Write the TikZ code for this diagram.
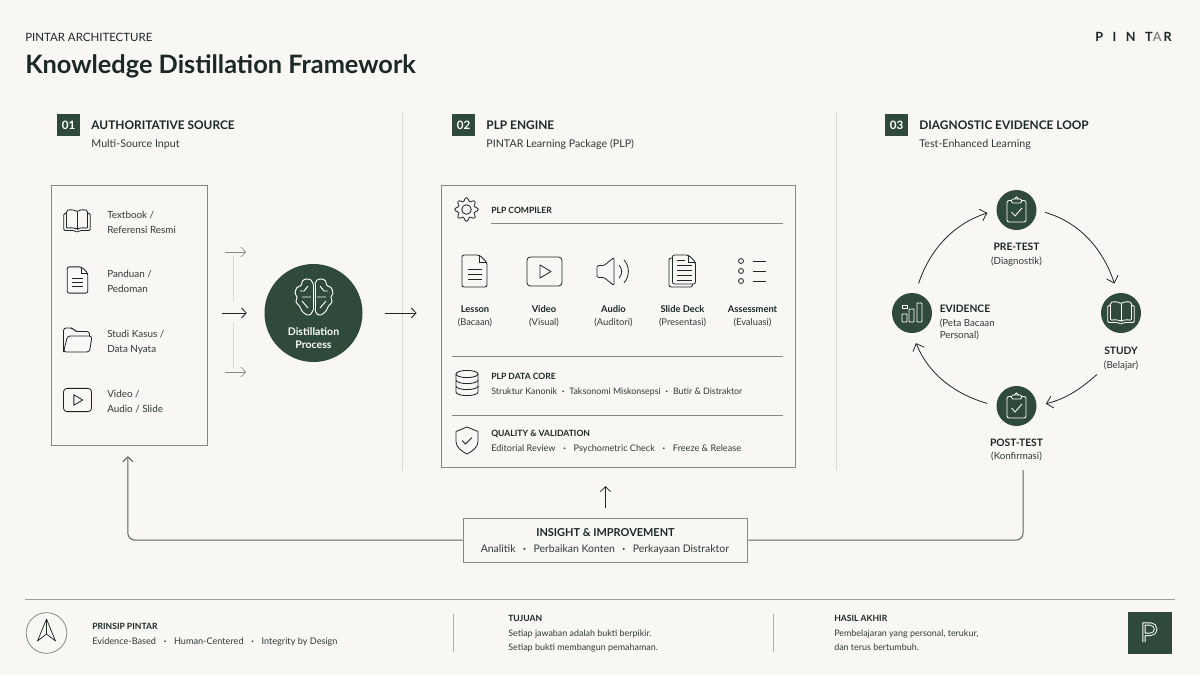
\documentclass[tikz,border=0pt]{standalone}
\usepackage{fontspec}
\setmainfont{Lato}
\newfontfamily\logofont[LetterSpace=75]{Lato}
\usetikzlibrary{arrows.meta, positioning, calc}

\definecolor{paper}{HTML}{F8F7F4}
\definecolor{forest}{HTML}{2F4A3A}
\definecolor{ink}{HTML}{1C2826}
\definecolor{soft}{HTML}{2F3937}
\definecolor{rulegray}{HTML}{858A87}
\definecolor{palegray}{HTML}{D9D9D5}

\newcommand{\pxfont}[2]{\fontsize{#1}{#2}\selectfont}
\newcommand{\midsep}[1][0.85em]{\hspace{#1}\textbf{·}\hspace{#1}}

\tikzset{
  pics/bookicon/.style={code={
    \draw[rounded corners=1pt] (0,-9) .. controls (-3,-7) and (-8,-7) .. (-11,-8) -- (-11,11) .. controls (-8,12) and (-3,12) .. (0,9.5) .. controls (3,12) and (8,12) .. (11,11) -- (11,-8) .. controls (8,-7) and (3,-7) .. (0,-9) -- cycle;
    \draw (0,9.5) -- (0,-9);
    \draw[rounded corners=1pt] (-11,8) -- (-14,8) -- (-14,-10) -- (-3,-10) -- (0,-12) -- (3,-10) -- (14,-10) -- (14,8) -- (11,8);
  }},
  pics/docicon/.style={code={
    \draw[rounded corners=1.5pt] (-12.5,16) -- (5,16) -- (12.5,8.5) -- (12.5,-16) -- (-12.5,-16) -- cycle;
    \draw (5,16) -- (5,8.5) -- (12.5,8.5);
    \foreach \ly in {2,-3,-8} \draw (-7,\ly) -- (7,\ly);
  }},
  pics/foldericon/.style={code={
    \draw[rounded corners=2pt] (-14,-12) -- (-14,12) -- (-5,12) -- (-2,8.5) -- (12,8.5) -- (12,4);
    \draw[rounded corners=2pt] (-14,-12) -- (-10,4) -- (14.5,4) -- (12,-12) -- cycle;
  }},
  pics/videoicon/.style={code={
    \draw[rounded corners=2.5pt] (-17.5,-14.5) rectangle (17.5,14.5);
    \draw[line join=round] (-4.5,6.5) -- (6.5,0) -- (-4.5,-6.5) -- cycle;
  }},
  pics/speakericon/.style={code={
    \draw[line join=round, rounded corners=1pt] (-16,-6) -- (-16,6) -- (-9,6) -- (1,14) -- (1,-14) -- (-9,-6) -- cycle;
    \draw (6,6.5) arc[start angle=45, end angle=-45, radius=9.2];
    \draw (11,11.5) arc[start angle=42, end angle=-42, radius=17];
  }},
  pics/deckicon/.style={code={
    \draw[rounded corners=1.5pt] (-10,16) -- (6,16) -- (13,9) -- (13,-13) -- (-10,-13) -- cycle;
    \draw (6,16) -- (6,9) -- (13,9);
    \draw[rounded corners=1.5pt] (-10,13) -- (-13.5,13) -- (-13.5,-16) -- (10,-16) -- (10,-13);
    \foreach \ly/\lx in {11/2,6/9,1/9,-4/9,-9/9} \draw (-6,\ly) -- (\lx,\ly);
  }},
  pics/listicon/.style={code={
    \foreach \ly in {10,0,-10} {
      \draw (-11,\ly) circle[radius=2.5];
      \draw (1,\ly) -- (14,\ly);
    }
  }},
  pics/gearicon/.style={code={
    \draw plot[smooth cycle, samples=64, domain=0:354.375] ({(10+1.7*cos(8*\x))*cos(\x)}, {(10+1.7*cos(8*\x))*sin(\x)});
    \draw (0,0) circle[radius=4.8];
  }},
  pics/dbicon/.style={code={
    \draw (0,9) ellipse[x radius=11, y radius=3.6];
    \draw (-11,9) -- (-11,-9) arc[start angle=180, end angle=360, x radius=11, y radius=3.6] -- (11,9);
    \draw (-11,3) arc[start angle=180, end angle=360, x radius=11, y radius=3.6];
    \draw (-11,-3) arc[start angle=180, end angle=360, x radius=11, y radius=3.6];
  }},
  pics/shieldicon/.style={code={
    \draw[line join=round] (0,13.5) -- (-11,9) -- (-11,-1) .. controls (-11,-7) and (-5,-11) .. (0,-13.5) .. controls (5,-11) and (11,-7) .. (11,-1) -- (11,9) -- cycle;
    \draw (-5,0) -- (-1.5,-3.5) -- (5,3);
  }},
  pics/clipicon/.style={code={
    \draw[rounded corners=1.5pt] (-5,10.5) -- (-9.5,10.5) -- (-9.5,-11) -- (9.5,-11) -- (9.5,10.5) -- (5,10.5);
    \draw[rounded corners=1pt] (-5,8) rectangle (5,12);
    \draw (-2,12) -- (0,14) -- (2,12);
    \draw (-5,-1) -- (-1.5,-5) -- (5.5,3);
  }},
  pics/barsicon/.style={code={
    \draw[rounded corners=.6pt] (-11,-9) rectangle (-6,-1);
    \draw[rounded corners=.6pt] (-4,-9) rectangle (1,4);
    \draw[rounded corners=.6pt] (4,-9) rectangle (9,10);
    \draw (-11,5) rectangle (-6,8);
  }},
  pics/brainicon/.style={code={
    \foreach \sd in {-1,1} {
      \begin{scope}[xscale=\sd]
        \draw plot[smooth] coordinates {(1,13) (3,17) (8,18) (11.5,16) (13,11.5) (17,9.5) (19,4) (17,0) (18,-5) (14.5,-9) (12,-14) (7,-18) (3,-17) (1,-13)};
        \draw (1,13) -- (1,-13);
        \draw (6,11) -- (10,6) -- (14,6) (3,0) -- (12,0) (6,-11) -- (12,-4);
      \end{scope}
    }
  }},
  pics/compassicon/.style={code={
    \draw[line join=round] (0,13) -- (-9,-9) -- (0,-2) -- (9,-9) -- cycle;
    \draw (0,13) -- (0,-2);
  }},
  pics/plogo/.style={code={
    \draw[white, line width=.7pt, double=forest, double distance=1.1pt] (-5.5,-9.5) -- (-5.5,8.5) -- (1,8.5) arc[start angle=90, end angle=-90, radius=5.2] -- (-5.5,-1.9);
  }}
}

\begin{document}
\begin{tikzpicture}[
  x=0.75pt, y=0.75pt,
  >={Straight Barb[length=3.6pt,width=7.5pt]},
  node distance=5pt and 8pt,
  every node/.style={inner sep=0pt, text=soft},
  icon/.style={ink, line width=0.62pt},
  iconw/.style={white, line width=0.62pt},
  kicker/.style={anchor=west, yshift=-.6pt, text=ink, font=\pxfont{8.6}{12}},
  headline/.style={anchor=west, text=ink, font=\pxfont{19}{24}\bfseries},
  badge/.style={fill=forest, text=white, minimum width=17pt, minimum height=17pt, font=\pxfont{8.7}{10}\bfseries},
  sechead/.style={anchor=west, text=ink, font=\pxfont{8.9}{12}\bfseries},
  secsub/.style={text=soft, font=\pxfont{8}{10}},
  frame/.style={draw=rulegray, line width=0.75pt, fill=none},
  itemtxt/.style={anchor=west, yshift=-.7pt, align=left, font=\pxfont{7.4}{11.25}},
  minihead/.style={anchor=west, yshift=-.5pt, text=ink, font=\pxfont{6.45}{9}\bfseries},
  minitxt/.style={anchor=west, yshift=-.5pt, font=\pxfont{6.85}{9}},
  fmthead/.style={text=ink, yshift=-.3pt, font=\pxfont{7}{9}\bfseries},
  fmtsub/.style={font=\pxfont{7}{9}},
  hub/.style={circle, fill=forest, minimum size=30pt},
  stephead/.style={text=ink, yshift=-.5pt, font=\pxfont{7.7}{9}\bfseries},
  stepsub/.style={font=\pxfont{7.3}{9}},
  arrow/.style={->, color=ink, line width=0.6pt},
  cyclearrow/.style={-{Straight Barb[length=4.6pt,width=9pt]}, color=ink, line width=0.6pt},
  thinarrow/.style={->, color=rulegray, line width=0.45pt},
  looparrow/.style={color=rulegray!70!black, line width=0.75pt, rounded corners=5pt},
  sepline/.style={color=rulegray, line width=0.6pt},
  faintline/.style={color=palegray, line width=0.6pt}
]
\useasboundingbox (0,0) rectangle (1200,-675);
\fill[paper] (0,0) rectangle (1200,-675);

% title block
\node[kicker] (kick) at (25,-37) {PINTAR ARCHITECTURE};
\node[headline] (title) at (25,-66.5) {Knowledge Distillation Framework};
\node[anchor=east, text=ink, font=\logofont\bfseries\pxfont{9.5}{12}] (wordmark) at (1172,-37) {PINT{\color{rulegray}A}\kern1.5pt R};

\draw[faintline] (402,-112) -- (402,-471);
\draw[faintline] (836,-112) -- (836,-471);

% column headers
\node[badge] (badgeA) at (68.5,-125) {01};
\node[sechead, right=8.3pt of badgeA] (headA) {AUTHORITATIVE SOURCE};
\node[secsub, below right=7pt and 0pt of headA.south west] (subA) {Multi-Source Input};
\node[badge] (badgeB) at (463.5,-125) {02};
\node[sechead, right=8.3pt of badgeB] (headB) {PLP ENGINE};
\node[secsub, below right=7pt and 0pt of headB.south west] (subB) {PINTAR Learning Package (PLP)};
\node[badge] (badgeC) at (896.5,-125) {03};
\node[sechead, right=8.3pt of badgeC] (headC) {DIAGNOSTIC EVIDENCE LOOP};
\node[secsub, below right=7pt and 0pt of headC.south west] (subC) {Test-Enhanced Learning};

% source column
\node[frame, minimum width=117.5pt, minimum height=195pt] (srcbox) at (129.5,-315) {};
\pic[icon, scale=0.95] at (77,-221) {bookicon};
\pic[icon, scale=0.82] at (77.5,-280) {docicon};
\pic[icon] at (77.5,-340) {foldericon};
\pic[icon, scale=0.8] at (77.5,-400) {videoicon};
\node[itemtxt] (srcA) at (107,-221.5) {Textbook /\\Referensi Resmi};
\node[itemtxt] (srcB) at (107,-280.5) {Panduan /\\Pedoman};
\node[itemtxt] (srcC) at (107,-341.5) {Studi Kasus /\\Data Nyata};
\node[itemtxt] (srcD) at (107,-400.5) {Video /\\Audio / Slide};

% distillation
\node[circle, fill=forest, minimum size=73.5pt] (distill) at (313.5,-313) {};
\pic[iconw, line width=0.7pt] at (314,-297) {brainicon};
\node[align=center, text=white, font=\pxfont{7.9}{9.8}\bfseries] (distillTxt) at (313.5,-338) {Distillation\\Process};

\coordinate (feedTopA) at (225,-252);
\coordinate (feedTopB) at (246,-252);
\coordinate (feedLowA) at (225,-372);
\coordinate (feedLowB) at (246,-372);
\draw[faintline, line width=0.4pt] (233,-255) -- (233,-302);
\draw[faintline, line width=0.4pt] (233,-322) -- (233,-369);
\draw[thinarrow] (feedTopA) -- (feedTopB);
\draw[thinarrow] (feedLowA) -- (feedLowB);
\draw[arrow, shorten <=10.5pt, shorten >=13pt] (srcbox.east |- distill.west) -- (distill.west);

% plp engine
\node[frame, minimum width=266pt, minimum height=211.5pt] (plpbox) at (618.5,-326) {};
\draw[arrow, shorten <=17pt, shorten >=18pt] (distill.east) -- (plpbox.west |- distill.east);

\pic[icon] at (466.5,-209.5) {gearicon};
\node[minihead] (compHead) at (491,-210) {PLP COMPILER};
\draw[sepline] (491,-223) -- (783,-223);

\pic[icon] at (474.5,-271) {docicon};
\pic[icon] at (544.5,-271.5) {videoicon};
\pic[icon] at (613,-271.5) {speakericon};
\pic[icon] at (682.5,-271) {deckicon};
\pic[icon] at (752,-271) {listicon};

\node[fmthead] (fmtA) at (475,-309) {Lesson};
\node[fmtsub, below=3.7pt of fmtA] (fmtAsub) {(Bacaan)};
\node[fmthead] (fmtB) at (544,-309) {Video};
\node[fmtsub, below=3.7pt of fmtB] (fmtBsub) {(Visual)};
\node[fmthead] (fmtC) at (613.5,-309) {Audio};
\node[fmtsub, below=3.7pt of fmtC] (fmtCsub) {(Auditori)};
\node[fmthead] (fmtD) at (682.5,-309) {Slide Deck};
\node[fmtsub, below=3.7pt of fmtD] (fmtDsub) {(Presentasi)};
\node[fmthead] (fmtE) at (752.5,-309) {Assessment};
\node[fmtsub, below=3.7pt of fmtE] (fmtEsub) {(Evaluasi)};

\draw[sepline] (452,-356.5) -- (783,-356.5);
\pic[icon] at (467,-383) {dbicon};
\node[minihead] (coreHead) at (491,-376) {PLP DATA CORE};
\node[minitxt, font=\pxfont{6.65}{9}] (coreTxt) at (491,-391) {Struktur Kanonik\midsep[0.55em]Taksonomi Miskonsepsi\midsep[0.55em]Butir \& Distraktor};

\draw[sepline] (452,-415) -- (783,-415);
\pic[icon] at (467,-440.5) {shieldicon};
\node[minihead] (qualHead) at (491,-433.5) {QUALITY \& VALIDATION};
\node[minitxt] (qualTxt) at (491,-448.5) {Editorial Review\midsep{}Psychometric Check\midsep{}Freeze \& Release};

% evidence loop
\node[hub] (pretest) at (1016.5,-210) {};
\node[hub] (study) at (1121,-313) {};
\node[hub] (posttest) at (1016.5,-406) {};
\node[hub] (evidence) at (912,-313) {};
\pic[iconw] at (1016.5,-211) {clipicon};
\pic[iconw, scale=0.95] at (1121,-313) {bookicon};
\pic[iconw] at (1016.5,-407) {clipicon};
\pic[iconw] at (913,-313) {barsicon};

\node[stephead] (preHead) at (1016.5,-246.5) {PRE-TEST};
\node[stepsub, below=4pt of preHead] (preSub) {(Diagnostik)};
\node[stephead] (studyHead) at (1121,-350.5) {STUDY};
\node[stepsub, below=4pt of studyHead] (studySub) {(Belajar)};
\node[stephead] (postHead) at (1016.5,-442) {POST-TEST};
\node[stepsub, below=4pt of postHead] (postSub) {(Konfirmasi)};
\node[stephead, anchor=west] (eviHead) at (939.5,-308.5) {EVIDENCE};
\node[stepsub, align=left, font=\pxfont{7.3}{9}, below right=4pt and 0pt of eviHead.south west] (eviSub) {(Peta Bacaan\\Personal)};

\draw[cyclearrow, shorten <=7.5pt, shorten >=7pt] (evidence.80) to[out=72, in=198] (pretest.west);
\draw[cyclearrow, shorten <=6.5pt, shorten >=7.5pt] (pretest.east) to[out=-16, in=108] (study.100);
\draw[cyclearrow, shorten >=7pt] ([xshift=-5pt,yshift=-3pt]studySub.south west) to[out=-138, in=14] (posttest.east);
\draw[cyclearrow, shorten <=7pt, shorten >=8pt] (posttest.west) to[out=164, in=-68] (evidence.south);

\node[frame, fill=paper, minimum width=213.5pt, minimum height=33pt] (insight) at (605.5,-540) {};
\node[text=ink, yshift=-.5pt, font=\pxfont{8.2}{10}\bfseries] (insightHead) at (605.5,-532) {INSIGHT \& IMPROVEMENT};
\node[yshift=-.5pt, font=\pxfont{7.85}{10}] (insightTxt) at (605,-549) {Analitik\midsep[0.72em]Perbaikan Konten\midsep[0.72em]Perkayaan Distraktor};

\coordinate (loopEnd) at (1023,-470);
\draw[arrow, shorten <=7pt, shorten >=14pt] (insight.north) -- (plpbox.south -| insight.north);
\draw[looparrow] (insight.east) -| (loopEnd);
\draw[looparrow, -{Straight Barb[length=3.6pt,width=7.5pt]}, shorten >=8pt] (insight.west) -| ([xshift=-1.2pt]srcbox.south);

% footer
\draw[sepline, color=rulegray!80] (25,-599) -- (1175,-599);
\node[circle, draw=rulegray, line width=0.6pt, minimum size=30.5pt] (compass) at (46.5,-633) {};
\pic[icon, line width=0.55pt] at (46.5,-632) {compassicon};
\node[minihead] (prinHead) at (92,-626) {PRINSIP PINTAR};
\node[minitxt] (prinTxt) at (92,-641) {Evidence-Based\midsep{}Human-Centered\midsep{}Integrity by Design};
\draw[sepline, color=rulegray!70] (453,-614) -- (453,-652);
\node[minihead] (goalHead) at (508,-618) {TUJUAN};
\node[minitxt, align=left, font=\pxfont{6.7}{10.5}] (goalTxt) at (508,-640) {Setiap jawaban adalah bukti berpikir.\\Setiap bukti membangun pemahaman.};
\draw[sepline, color=rulegray!70] (773,-614) -- (773,-652);
\node[minihead] (endHead) at (834,-618) {HASIL AKHIR};
\node[minitxt, align=left, font=\pxfont{6.7}{10.5}] (endTxt) at (834,-640) {Pembelajaran yang personal, terukur,\\dan terus bertumbuh.};
\node[fill=forest, minimum width=33pt, minimum height=31.5pt] (pbadge) at (1149.5,-632.5) {};
\pic at (1149.5,-632.5) {plogo};
\end{tikzpicture}
\end{document}
